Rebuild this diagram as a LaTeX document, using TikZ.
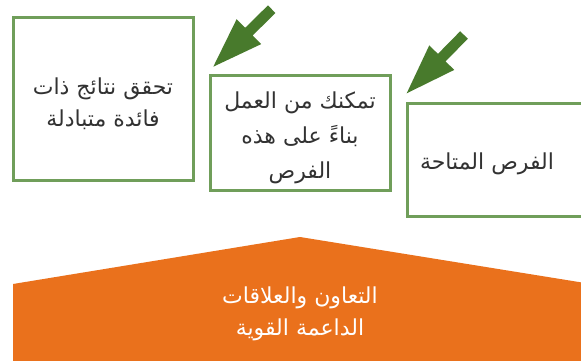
\documentclass[tikz,border=0pt]{standalone}
\usepackage{fontspec}
\newfontfamily\arabicfont[Script=Arabic]{DejaVu Sans}
\TeXXeTstate=1
\usetikzlibrary{calc}
\definecolor{boxgreen}{RGB}{112,158,90}
\definecolor{arrowgreen}{RGB}{72,122,44}
\definecolor{baseorange}{RGB}{234,113,28}
\definecolor{txt}{RGB}{50,50,50}
\tikzset{
  box/.style={draw=boxgreen, line width=3pt, fill=white, minimum width=#1, inner sep=0pt},
  lbl/.style={font=\arabicfont\fontsize{22pt}{32pt}\selectfont, text=txt, align=center, inner sep=0pt},
  bigarrow/.style={fill=arrowgreen},
}
% #1 tail, #2 tip
\newcommand\greenarrow[2]{%
  \coordinate (hb) at ($(#2)!50pt!(#1)$);
  \fill[bigarrow] ($(#1)!5.35pt!90:(#2)$) -- ($(hb)!5.35pt!90:(#2)$) -- ($(hb)!17.5pt!90:(#2)$)
    -- (#2) -- ($(hb)!17.5pt!-90:(#2)$) -- ($(hb)!5.35pt!-90:(#2)$) -- ($(#1)!5.35pt!-90:(#2)$) -- cycle;
}
\begin{document}
\begin{tikzpicture}[x=1pt,y=-1pt]
\clip (0,0) rectangle (581,361);
\fill[white] (0,0) rectangle (581,361);
% boxes
\node[box=180pt, minimum height=162pt] (b1) at (103,99) {};
\node[box=180pt, minimum height=114pt] (b2) at (300,133) {};
\node[box=180pt, minimum height=113pt] (b3) at (497,159.5) {};
\node[lbl] (t1) at (103,104) {\beginR تحقق نتائج ذات\endR\\\beginR فائدة متبادلة\endR};
\node[lbl, font=\arabicfont\fontsize{22pt}{35pt}\selectfont] (t2) at (300,138) {\beginR تمكنك من العمل\endR\\\beginR بناءً على هذه\endR\\\beginR الفرص\endR};
\node[lbl] (t3) at (487,164) {\beginR الفرص المتاحة\endR};
% arrows
\coordinate (a1s) at (271.7,9.2);
\coordinate (a1e) at (213.3,66.7);
\coordinate (a2s) at (464,35);
\coordinate (a2e) at (406.7,93.3);
\greenarrow{a1s}{a1e}
\greenarrow{a2s}{a2e}
% base
\fill[baseorange] (13,284) -- (300,237) -- (585,283) -- (585,365) -- (13,365) -- cycle;
\node[lbl, text=white] (t4) at (300,314) {\beginR التعاون والعلاقات\endR\\\beginR الداعمة القوية\endR};
\end{tikzpicture}
\end{document}
